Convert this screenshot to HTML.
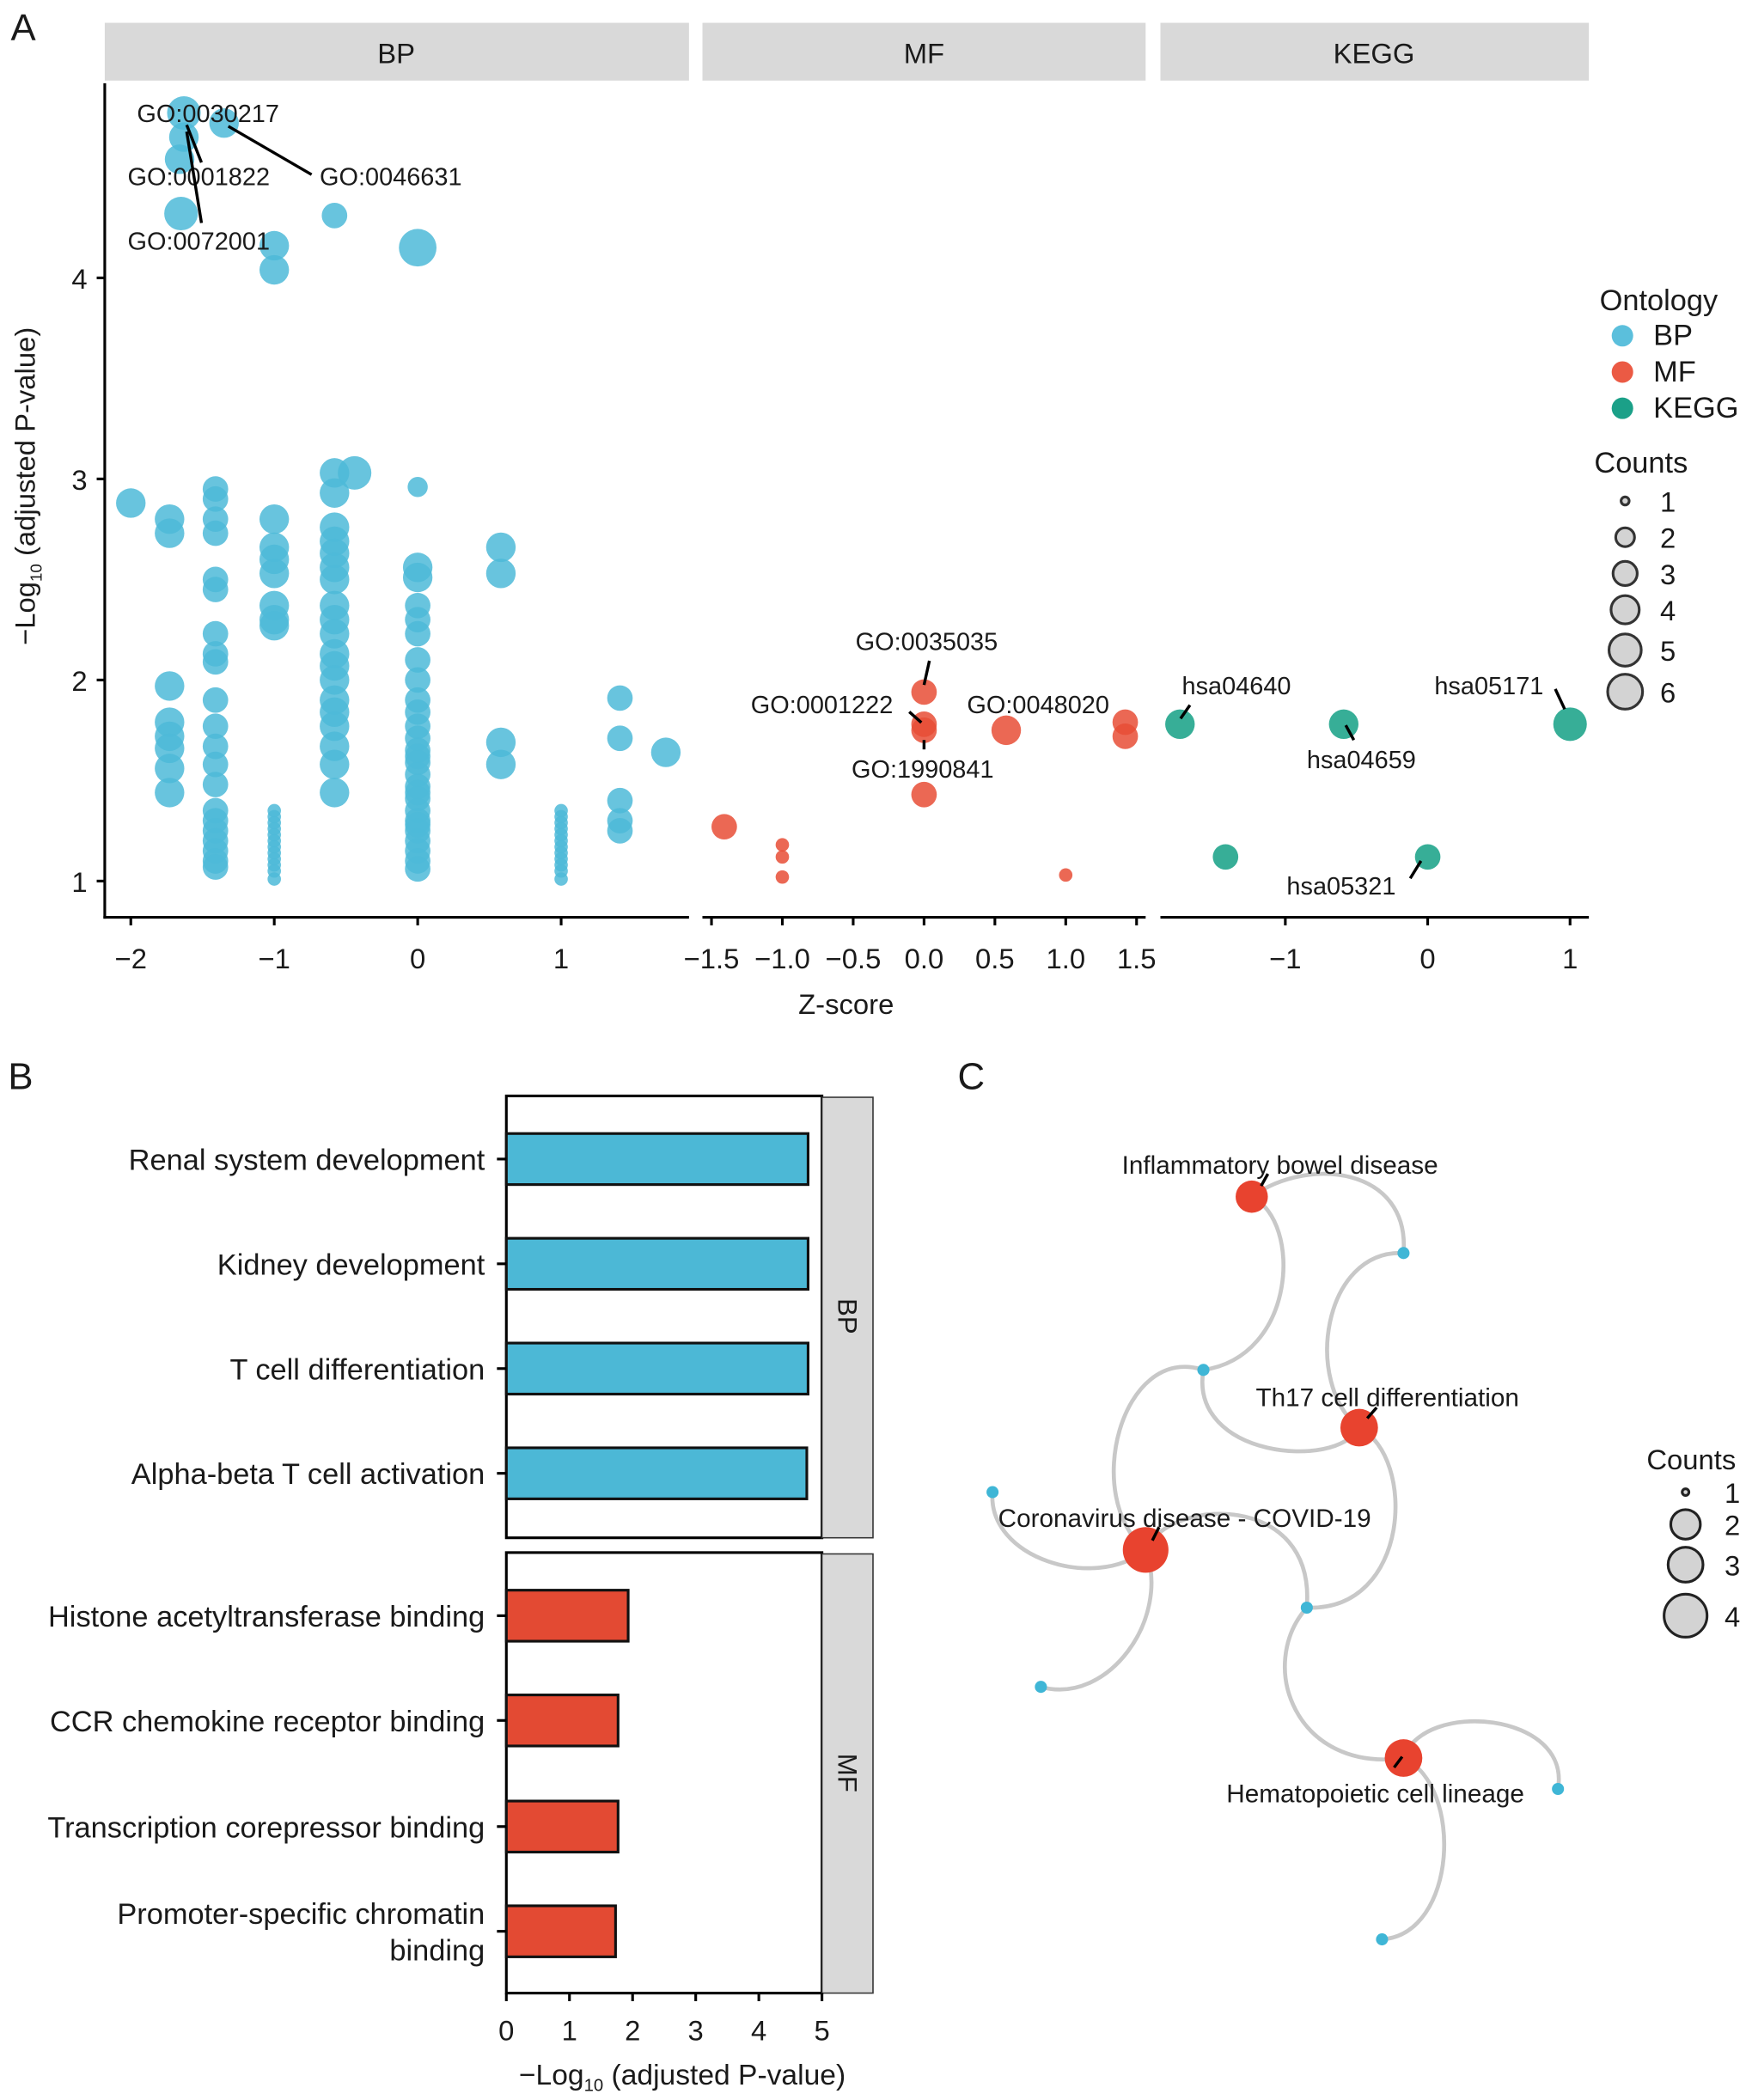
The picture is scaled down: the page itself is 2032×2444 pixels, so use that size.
<!DOCTYPE html>
<html><head><meta charset="utf-8"><style>
html,body{margin:0;padding:0;background:#fff;}
svg{display:block;}
text{font-family:"Liberation Sans",Arial,sans-serif;fill:#1a1a1a;}
</style></head><body>
<svg id="fig" xmlns="http://www.w3.org/2000/svg" width="2032" height="2444" viewBox="0 0 1300 1563.6" preserveAspectRatio="none">
<g id="panelA">
 <text x="8" y="30" font-size="28">A</text>
 <rect x="78" y="17" width="435" height="43" fill="#d9d9d9"/>
 <text x="295" y="47" font-size="21" text-anchor="middle">BP</text>
 <rect x="523" y="17" width="330" height="43" fill="#d9d9d9"/>
 <text x="688" y="47" font-size="21" text-anchor="middle">MF</text>
 <rect x="864" y="17" width="319" height="43" fill="#d9d9d9"/>
 <text x="1023" y="47" font-size="21" text-anchor="middle">KEGG</text>
 <line x1="78" y1="62" x2="78" y2="684" stroke="#000" stroke-width="2"/>
 <line x1="77" y1="683" x2="513" y2="683" stroke="#000" stroke-width="2"/>
 <line x1="523" y1="683" x2="853" y2="683" stroke="#000" stroke-width="2"/>
 <line x1="864" y1="683" x2="1183" y2="683" stroke="#000" stroke-width="2"/>
 <g id="aTicks"></g>
 <g id="aPoints"></g>
 <g id="aLabels" font-size="18.5"></g>
 <text x="630" y="755" font-size="21" text-anchor="middle">Z-score</text>
 <text transform="translate(26,362) rotate(-90)" font-size="21" text-anchor="middle">−Log<tspan font-size="12" dy="5">10</tspan><tspan dy="-5"> (adjusted P-value)</tspan></text>
 <g>
  <text x="1191" y="231" font-size="22">Ontology</text>
  <circle cx="1208" cy="250" r="8" fill="#5bbfdc"/><text x="1231" y="257" font-size="22">BP</text>
  <circle cx="1208" cy="277" r="8" fill="#eb5a44"/><text x="1231" y="284" font-size="22">MF</text>
  <circle cx="1208" cy="304" r="8" fill="#1ba088"/><text x="1231" y="311" font-size="22">KEGG</text>
 </g>
 <g id="aSizeLegend">
  <text x="1187" y="352" font-size="22">Counts</text>
 </g>
</g>

<g id="panelB">
 <text x="6" y="811" font-size="28">B</text>
 <rect x="377" y="816" width="235" height="329" fill="none" stroke="#000" stroke-width="2"/>
 <rect x="612" y="817" width="38" height="328" fill="#d9d9d9" stroke="#333" stroke-width="1"/>
 <text transform="translate(624,980) rotate(90)" font-size="20" text-anchor="middle">BP</text>
 <rect x="377" y="1156" width="235" height="328" fill="none" stroke="#000" stroke-width="2"/>
 <rect x="612" y="1157" width="38" height="327" fill="#d9d9d9" stroke="#333" stroke-width="1"/>
 <text transform="translate(624,1320) rotate(90)" font-size="20" text-anchor="middle">MF</text>
 <g id="bBars"></g>
 <g id="bTicks"></g>
 <text x="508" y="1552" font-size="21.5" text-anchor="middle">−Log<tspan font-size="13" dy="5">10</tspan><tspan dy="-5"> (adjusted P-value)</tspan></text>
</g>

<g id="panelC">
 <text x="713" y="811" font-size="28">C</text>
 <g id="cEdges" fill="none" stroke="#c8c8c8" stroke-width="3"></g>
 <g id="cNodes"></g>
 <g id="cLegend">
  <text x="1226" y="1094" font-size="21">Counts</text>
 </g>
</g>
</svg>
<script>
// ---------- Panel A data ----------
const bpZ = [-1.63,-1.63,-1.66,-1.35,-1.65,-0.58,-1,-1,0,
 -2,-1.73,-1.73,
 -1.41,-1.41,-1.41,-1.41,-1.41,-1.41,-1.41,-1.41,-1.41,-1.41,-1.41,-1.41,-1.41,-1.41,-1.41,-1.41,-1.41,-1.41,-1.41,-1.41,-1.41,
 -1.73,-1.73,-1.73,-1.73,-1.73,-1.73,
 -1,-1,-1,-1,-1,-1,-1,
 -1,-1,-1,-1,-1,-1,-1,-1,-1,-1,-1,-1,
 -0.58,-0.58,-0.58,-0.58,-0.58,-0.58,-0.58,-0.58,-0.58,-0.58,-0.58,-0.58,-0.58,-0.58,-0.58,-0.58,-0.58,-0.58,-0.58,
 -0.44,
 0,0,0,0,0,0,0,0,0,0,0,0,0,0,0,0,0,0,0,0,0,0,0,0,0,0,0,
 1,1,1,1,1,1,1,1,1,1,1,1,
 0.58,0.58,0.58,0.58,
 1.41,1.41,1.41,1.41,1.41,
 1.73];
const bpVal = [4.82,4.70,4.59,4.77,4.32,4.31,4.16,4.04,4.15,
 2.88,2.80,2.73,
 2.95,2.90,2.80,2.73,2.50,2.45,2.23,2.13,2.09,1.90,1.77,1.67,1.58,1.48,1.35,1.30,1.25,1.20,1.15,1.10,1.07,
 1.97,1.79,1.72,1.66,1.56,1.44,
 2.80,2.66,2.60,2.53,2.37,2.30,2.27,
 1.35,1.32,1.29,1.26,1.23,1.20,1.17,1.14,1.11,1.08,1.05,1.01,
 3.03,2.93,2.76,2.69,2.63,2.56,2.50,2.37,2.30,2.23,2.13,2.07,2.00,1.90,1.84,1.77,1.67,1.58,1.44,
 3.03,
 2.96,2.56,2.51,2.37,2.30,2.23,2.10,2.00,1.90,1.84,1.77,1.71,1.65,1.59,1.53,1.47,1.41,1.35,1.30,1.25,1.20,1.15,1.10,1.06,1.62,1.44,1.28,
 1.35,1.32,1.29,1.26,1.23,1.20,1.17,1.14,1.11,1.08,1.05,1.01,
 2.66,2.53,1.69,1.58,
 1.91,1.71,1.40,1.30,1.25,
 1.64];
const bpCount = [5,4,4,4,5,3,4,4,6,
 4,4,4,
 3,3,3,3,3,3,3,3,3,3,3,3,3,3,3,3,3,3,3,3,3,
 4,4,4,4,4,4,
 4,4,4,4,4,4,4,
 1,1,1,1,1,1,1,1,1,1,1,1,
 4,4,4,4,4,4,4,4,4,4,4,4,4,4,4,4,4,4,4,
 5,
 2,4,4,3,3,3,3,3,3,3,3,3,3,3,3,3,3,3,3,3,3,3,3,3,3,3,3,
 1,1,1,1,1,1,1,1,1,1,1,1,
 4,4,4,4,
 3,3,3,3,3,
 4];
const mfZ = [0,0,0,0.58,1.42,1.42,0,-1.41,-1,-1,-1,1];
const mfVal = [1.94,1.78,1.75,1.75,1.79,1.72,1.43,1.27,1.18,1.12,1.02,1.03];
const mfCount = [3,3,3,4,3,3,3,3,1,1,1,1];
const keggZ = [-1.74,-0.59,1,-1.42,0];
const keggVal = [1.78,1.78,1.78,1.12,1.12];
const keggCount = [4,4,5,3,3];
const yTicks = [1,2,3,4];
const bpTicks = [-2,-1,0,1];
const mfTicks = [-1.5,-1.0,-0.5,0.0,0.5,1.0,1.5];
const keggTicks = [-1,0,1];
const countLevels = [1,2,3,4,5,6];

// ---------- Panel B data ----------
const bCategories = ["Renal system development","Kidney development","T cell differentiation","Alpha-beta T cell activation",
 "Histone acetyltransferase binding","CCR chemokine receptor binding","Transcription corepressor binding","Promoter-specific chromatin|binding"];
const bValues = [4.78,4.78,4.78,4.76,1.93,1.77,1.77,1.73];
const bGroups = ["BP","BP","BP","BP","MF","MF","MF","MF"];
const bTicksArr = [0,1,2,3,4,5];

// ---------- Panel C data ----------
const cNodeNames = ["Inflammatory bowel disease","Th17 cell differentiation","Coronavirus disease - COVID-19","Hematopoietic cell lineage"];
const cNodeCounts = [2,3,4,3];
const cLegendCounts = [1,2,3,4];

const NS="http://www.w3.org/2000/svg";
function mk(tag,attrs,parent){const e=document.createElementNS(NS,tag);for(const k in attrs)e.setAttribute(k,attrs[k]);parent.appendChild(e);return e;}

const yA = v => 656 - (v-1)*149.7;
const xBP = z => 311 + z*106.8;
const xMF = z => 688 + z*105.5;
const xKG = z => 1063 + z*106;
const rA = c => [0,5,7.5,9.5,11,12.5,14][c];

const aT=document.getElementById('aTicks');
yTicks.forEach(v=>{
 const l=mk('line',{x1:72,x2:78,y1:yA(v),y2:yA(v),stroke:'#000','stroke-width':2},aT);
 
 
 const t=mk('text',{x:65,y:yA(v)+8,'font-size':21,'text-anchor':'end'},aT);t.textContent=v;
 
 
});
function xt(arr,fx,fmt){arr.forEach(z=>{
 const l=mk('line',{x1:fx(z),x2:fx(z),y1:683,y2:689,stroke:'#000','stroke-width':2},aT);
 
 
 const t=mk('text',{x:fx(z),y:721,'font-size':21,'text-anchor':'middle'},aT);
 t.textContent=fmt(z);
 
 
});}
const neg=s=>s.replace('-','−');
xt(bpTicks,xBP,z=>neg(String(z)));
xt(mfTicks,xMF,z=>neg(z.toFixed(1)));
xt(keggTicks,xKG,z=>neg(String(z)));

const aP=document.getElementById('aPoints');
function pts(zs,vs,cs,fx,col,name){zs.forEach((z,i)=>{
 const c=mk('circle',{cx:fx(z),cy:yA(vs[i]),r:rA(cs[i]),fill:col,'fill-opacity':0.85},aP);
 
 
});}
pts(bpZ,bpVal,bpCount,xBP,'#4dbad8','point-bp');
pts(mfZ,mfVal,mfCount,xMF,'#e84e36','point-mf');
pts(keggZ,keggVal,keggCount,xKG,'#14a085','point-kegg');

const aL=document.getElementById('aLabels');
const labelsA=[
 ["GO:0030217",102,91,null],["GO:0001822",95,138,[139,93,150,121]],["GO:0046631",238,138,[170,94,232,130]],
 ["GO:0072001",95,186,[139,98,150,166]],
 ["GO:0035035",637,484,[692,492,688,510]],["GO:0001222",559,531,[677,530,686,538]],
 ["GO:1990841",634,579,[688,551,688,558]],["GO:0048020",720,531,null],
 ["hsa04640",880,517,[886,525,879,535]],["hsa04659",973,572,[1002,540,1008,551]],
 ["hsa05171",1068,517,[1158,513,1165,528]],["hsa05321",958,666,[1058,641,1050,654]]];
labelsA.forEach(d=>{
 if(d[3]){const l=mk('line',{x1:d[3][0],y1:d[3][1],x2:d[3][2],y2:d[3][3],stroke:'#000','stroke-width':2.2},aL);
  
  }
 const t=mk('text',{x:d[1],y:d[2]},aL);t.textContent=d[0];
 
 
});
const aS=document.getElementById('aSizeLegend');
const legY=[373,400,427,454,484,515];
const legR=[4,8,10,11.5,13,14];
countLevels.forEach((c,i)=>{
 const e=mk('circle',{cx:1210,cy:legY[i],r:legR[i]-1,fill:'#d3d3d3',stroke:'#333','stroke-width':2},aS);
 
 
 const t=mk('text',{x:1236,y:legY[i]+8,'font-size':21},aS);t.textContent=c;
});

// ---------- Panel B ----------
const xB = v => 377 + v*47;
const bCenters=[863,941,1019,1097,1203,1281,1360,1438];
const bB=document.getElementById('bBars');
bCategories.forEach((cat,i)=>{
 const y=bCenters[i];
 const r=mk('rect',{x:377,y:y-19,width:xB(bValues[i])-377,height:38,fill:bGroups[i]==='BP'?'#4cb8d6':'#e34a33',stroke:'#111','stroke-width':2},bB);
 
 
 mk('line',{x1:370,x2:377,y1:y,y2:y,stroke:'#000','stroke-width':2},bB);
 const parts=cat.split('|');
 parts.forEach((p,j)=>{
  const t=mk('text',{x:361,y:y+8+(parts.length>1?(j-0.5)*27:0),'font-size':22,'text-anchor':'end'},bB);
  t.textContent=p;
  
  
 });
});
const bT=document.getElementById('bTicks');
bTicksArr.forEach(v=>{
 mk('line',{x1:xB(v),x2:xB(v),y1:1484,y2:1490,stroke:'#000','stroke-width':2},bT);
 const t=mk('text',{x:xB(v),y:1519,'font-size':21,'text-anchor':'middle'},bT);t.textContent=v;
 
 
});

// ---------- Panel C ----------
const cE=document.getElementById('cEdges');
const edgePaths=[
 "M932,891 C975,860 1050,870 1045,933",
 "M932,891 C970,910 965,1010 896,1020",
 "M1045,933 C985,930 970,1030 1012,1063",
 "M896,1020 C885,1085 995,1095 1012,1063",
 "M896,1020 C835,1000 805,1115 853,1154",
 "M853,1154 C815,1185 735,1160 739,1111",
 "M853,1154 C872,1205 825,1270 775,1256",
 "M853,1154 C870,1115 980,1110 973,1197",
 "M1012,1063 C1055,1085 1050,1200 973,1197",
 "M973,1197 C935,1240 965,1320 1045,1309",
 "M1045,1309 C1060,1265 1170,1275 1160,1332",
 "M1045,1309 C1090,1330 1085,1440 1029,1444"];
edgePaths.forEach(d=>{const p=mk('path',{d:d},cE);
 
 });
const cN=document.getElementById('cNodes');
const rC=c=>[0,3.5,12,14,17][c];
const geneXY=[[1045,933],[896,1020],[739,1111],[973,1197],[775,1256],[1160,1332],[1029,1444]];
geneXY.forEach(g=>{const c=mk('circle',{cx:g[0],cy:g[1],r:4.5,fill:'#3fb6d6'},cN);
 
 });
const termXY=[[932,891],[1012,1063],[853,1154],[1045,1309]];
const termLab=[[953,874],[1033,1047],[882,1137],[1024,1342]];
const termLeader=[[939,883,944,874],[1018,1056,1025,1048],[858,1147,863,1137],[1038,1316,1044,1308]];
cNodeNames.forEach((n,i)=>{
 const c=mk('circle',{cx:termXY[i][0],cy:termXY[i][1],r:rC(cNodeCounts[i]),fill:'#e8432f'},cN);
 
 
 mk('line',{x1:termLeader[i][0],y1:termLeader[i][1],x2:termLeader[i][2],y2:termLeader[i][3],stroke:'#000','stroke-width':2.2},cN);
 const t=mk('text',{x:termLab[i][0],y:termLab[i][1],'font-size':19,'text-anchor':'middle'},cN);t.textContent=n;
 
 
});
const cLg=document.getElementById('cLegend');
const cLy=[1111,1135,1165,1203];
cLegendCounts.forEach((c,i)=>{
 const e=mk('circle',{cx:1255,cy:cLy[i],r:rC(c)-1,fill:'#d3d3d3',stroke:'#222','stroke-width':2},cLg);
 
 
 const t=mk('text',{x:1284,y:cLy[i]+8,'font-size':21},cLg);t.textContent=c;
});
</script>
</body></html>
